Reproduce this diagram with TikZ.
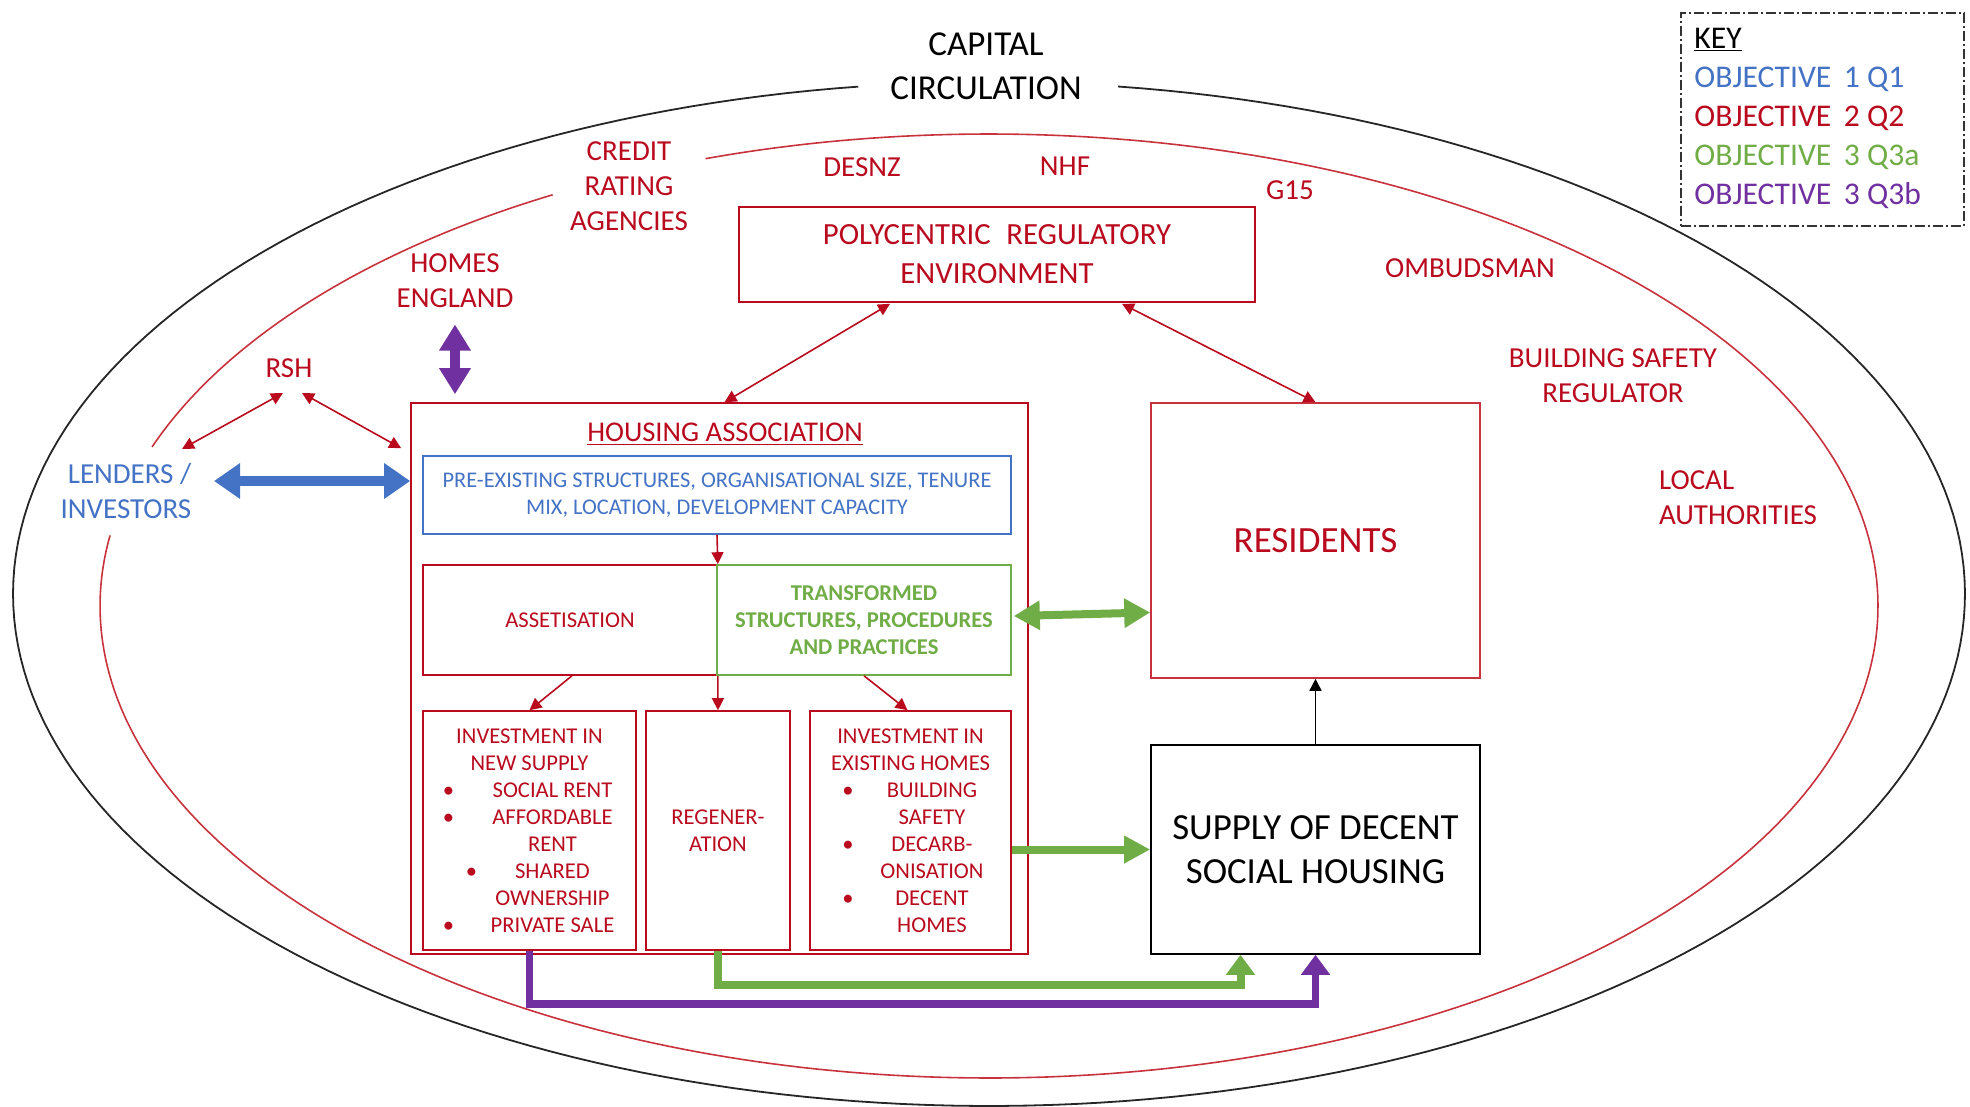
\documentclass[tikz,border=0pt]{standalone}
\usepackage{fontspec}
\setmainfont{Carlito}
\usetikzlibrary{arrows.meta,calc}
\definecolor{dred}{RGB}{185,10,30}
\definecolor{ered}{RGB}{200,50,60}
\definecolor{oblue}{RGB}{68,114,196}
\definecolor{ogreen}{RGB}{112,173,71}
\definecolor{opurple}{RGB}{112,48,160}
\newcommand\nsline[2]{\makebox[9pt]{#1}\hspace{14pt}\makebox[67pt]{#2}}
\newcommand\exline[2]{\makebox[9pt]{#1}\hspace{12.5pt}\makebox[50pt]{#2}}
\begin{document}
\begin{tikzpicture}[x=0.5pt,y=-0.5pt,
  lbl/.style={text=dred, font=\fontsize{14.5}{17.5}\selectfont, align=center, inner sep=0pt},
  bx/.style={draw=#1, line width=0.8pt, inner sep=0pt, align=center},
  smalltxt/.style={font=\fontsize{11.3}{13.5}\selectfont},
  thinarr/.style={dred, line width=0.8pt, {Triangle[length=6pt,width=6pt]}-{Triangle[length=6pt,width=6pt]}},
  redarr/.style={dred, line width=0.8pt, -{Triangle[length=6pt,width=6pt]}},
  blackarr/.style={black, line width=0.8pt, -{Triangle[length=6pt,width=6pt]}},
  bluearr/.style={oblue, line width=5pt, {Triangle[length=13pt,width=17pt]}-{Triangle[length=13pt,width=17pt]}},
  purpdbl/.style={opurple, line width=5pt, {Triangle[length=13pt,width=15pt]}-{Triangle[length=13pt,width=15pt]}},
  greendbl/.style={ogreen, line width=4pt, {Triangle[length=13pt,width=14pt]}-{Triangle[length=13pt,width=14pt]}},
  greenarr/.style={ogreen, line width=4pt, -{Triangle[length=13pt,width=13pt]}},
  greenelbow/.style={ogreen, line width=4pt, -{Triangle[length=10pt,width=14pt]}},
  purpelbow/.style={opurple, line width=3.8pt, -{Triangle[length=10pt,width=14pt]}}
]
\useasboundingbox (0,0) rectangle (1970,1107);

% ellipses
\draw[line width=0.9pt, black!85] plot[domain=97.7:442.4,samples=240] ({989+976*cos(\x)},{594-512*sin(\x)});
\draw[line width=0.8pt, ered] plot[domain=119.4:160.3,samples=60] ({989+889*cos(\x)},{606-472*sin(\x)});
\draw[line width=0.8pt, ered] plot[domain=171.4:468.6,samples=300] ({989+889*cos(\x)},{606-472*sin(\x)});

% title
\node[font=\fontsize{17.5}{22}\selectfont, align=center, inner sep=0pt] (cap) at (986,66) {CAPITAL\\CIRCULATION};

% key
\node[draw=black!80, dash pattern=on 5pt off 1.5pt on 1pt off 1.5pt, line width=0.7pt, minimum width=141.5pt, minimum height=106.5pt, inner sep=0pt] (keybox) at (1822.5,119.5) {};
\node[anchor=west, align=left, inner sep=0pt, font=\fontsize{15.8}{19.5}\selectfont] (key) at (1694,118) {\underline{KEY}\\
\textcolor{oblue}{OBJECTIVE\hspace{0.4em}1 Q1}\\
\textcolor{dred}{OBJECTIVE\hspace{0.4em}2 Q2}\\
\textcolor{ogreen}{OBJECTIVE\hspace{0.4em}3 Q3a}\\
\textcolor{opurple}{OBJECTIVE\hspace{0.4em}3 Q3b}};

% outer labels
\node[lbl] (cra) at (629,186) {CREDIT\\RATING\\AGENCIES};
\node[lbl] (desnz) at (862,167) {DESNZ};
\node[lbl] (nhf) at (1065,166) {NHF};
\node[lbl] (g15) at (1290,190) {G15};
\node[lbl] (homes) at (455,280.5) {HOMES\\ENGLAND};
\node[lbl] (rsh) at (289,368) {RSH};
\node[lbl] (omb) at (1470,268) {OMBUDSMAN};
\node[lbl] (bsr) at (1613,375.5) {BUILDING SAFETY\\REGULATOR};
\node[lbl, align=left] (la) at (1738,497.5) {LOCAL\\AUTHORITIES};
\node[lbl, text=oblue, align=right] (lend) at (126,491) {LENDERS /\\INVESTORS};

% boxes
\node[bx=dred, minimum width=258pt, minimum height=47.5pt, text=dred, font=\fontsize{15.4}{19.5}\selectfont] (poly) at (997,254.5) {POLYCENTRIC\hspace{0.5em}REGULATORY\\ENVIRONMENT};
\node[bx=dred, minimum width=308.5pt, minimum height=275.5pt] (ha) at (719.5,678.5) {};
\node[text=dred, font=\fontsize{14.3}{17}\selectfont, inner sep=0pt] (hat) at (725,434) {\underline{HOUSING ASSOCIATION}};
\node[bx=oblue, minimum width=294pt, minimum height=39pt, text=oblue, font=\fontsize{11.2}{13.5}\selectfont] (pre) at (717,495) {PRE-EXISTING STRUCTURES, ORGANISATIONAL SIZE, TENURE\\MIX, LOCATION, DEVELOPMENT CAPACITY};
\node[bx=dred, minimum width=147pt, minimum height=55pt, text=dred, smalltxt] (asset) at (570,620) {ASSETISATION};
\node[bx=ogreen, minimum width=147pt, minimum height=55pt, text=ogreen, font=\fontsize{11.3}{13.5}\selectfont\bfseries] (trans) at (864,620) {TRANSFORMED\\STRUCTURES, PROCEDURES\\AND PRACTICES};
\node[bx=dred, minimum width=106.5pt, minimum height=119.5pt, text=dred, smalltxt] (newsup) at (529.5,830.5) {INVESTMENT IN\\NEW SUPPLY\\
\nsline{\textbullet}{SOCIAL RENT}\\
\nsline{\textbullet}{AFFORDABLE}\\
\nsline{}{RENT}\\
\nsline{\hspace{23pt}\textbullet}{SHARED}\\
\nsline{}{OWNERSHIP}\\
\nsline{\textbullet}{PRIVATE SALE}};
\node[bx=dred, minimum width=72pt, minimum height=119.5pt, text=dred, smalltxt] (regen) at (718,830.5) {REGENER-\\ATION};
\node[bx=dred, minimum width=100.5pt, minimum height=119.5pt, text=dred, smalltxt] (exist) at (910.5,830.5) {INVESTMENT IN\\EXISTING HOMES\\
\exline{\textbullet}{BUILDING}\\
\exline{}{SAFETY}\\
\exline{\textbullet}{DECARB-}\\
\exline{}{ONISATION}\\
\exline{\textbullet}{DECENT}\\
\exline{}{HOMES}};
\node[bx=ered, minimum width=164.5pt, minimum height=137.5pt, text=dred, font=\fontsize{18.5}{22}\selectfont] (resid) at (1315.5,540.5) {RESIDENTS};
\node[bx=black, minimum width=164.5pt, minimum height=104.5pt, font=\fontsize{18.4}{22}\selectfont] (supply) at (1315.5,849.5) {SUPPLY OF DECENT\\SOCIAL HOUSING};

% thin arrows
\draw[thinarr] ([shift={(-6,25)}]rsh.center) -- ([shift={(56,-42)}]lend.center);
\draw[thinarr] ([shift={(13,25)}]rsh.center) -- ([shift={(-9,46)}]ha.north west);
\draw[thinarr] ([shift={(-107,1)}]poly.south) -- ([shift={(5,0)}]ha.north);
\draw[thinarr] ([shift={(125,1)}]poly.south) -- (resid.north);
\draw[redarr] (pre.south) -- (asset.north east);
\draw[redarr] ([shift={(2,0)}]asset.south) -- (newsup.north);
\draw[redarr] (asset.south east) -- (regen.north);
\draw[redarr] (trans.south) -- ([shift={(-3,0)}]exist.north);
\draw[blackarr] (supply.north) -- (resid.south);

% thick arrows
\draw[bluearr] ([shift={(88,-10)}]lend.center) coordinate (bl) -- (bl -| ha.west);
\draw[purpdbl, shorten >=4pt] ([shift={(0,44)}]homes.center) coordinate (hp) -- (hp |- ha.north);
\draw[greendbl] ([shift={(2,-4)}]trans.east) -- ([shift={(0,72)}]resid.west);
\draw[greenarr] (exist.east |- supply.west) -- (supply.west);
\draw[greenelbow] (regen.south) -- ++(0,34) -| ([shift={(-75,0)}]supply.south);
\draw[purpelbow] (newsup.south) -- ++(0,53) -| (supply.south);
\end{tikzpicture}
\end{document}
